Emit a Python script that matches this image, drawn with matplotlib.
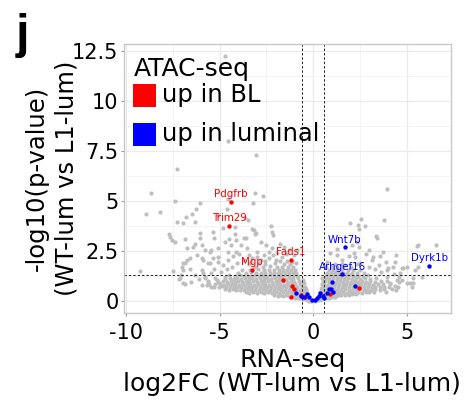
import matplotlib
matplotlib.use("Agg")
import matplotlib.pyplot as plt
from matplotlib.patches import Rectangle
from matplotlib.ticker import MultipleLocator

plt.rcParams['font.family'] = ['DejaVu Sans']
plt.rcParams['axes.unicode_minus'] = False

# background genes (grey): dense V-shaped cloud + outliers
gray_core = [
    (-0.35, 0.05), (-0.22, 0.02), (-0.1, 0.0), (0.12, 0.01), (0.25, 0.04), (0.38, 0.07),
    (-0.95, 0.16), (-0.82, 0.13), (-0.68, 0.17), (-0.55, 0.12), (-0.45, 0.15),
    (0.42, 0.14), (0.55, 0.17), (0.7, 0.13), (0.85, 0.16), (1.0, 0.18), (1.15, 0.2),
    (-2.1, 0.3), (-1.9, 0.26), (-1.75, 0.3), (-1.6, 0.27), (-1.45, 0.31), (-1.3, 0.26),
    (-1.15, 0.29), (-1.0, 0.3), (-0.85, 0.27), (-0.7, 0.3), (-0.55, 0.26), (-0.42, 0.28),
    (0.45, 0.27), (0.6, 0.3), (0.75, 0.26), (0.9, 0.29), (1.05, 0.31), (1.2, 0.27),
    (1.35, 0.3), (1.5, 0.28), (1.7, 0.31), (1.9, 0.3), (2.1, 0.33), (2.3, 0.35),
    (-3.6, 0.43), (-3.4, 0.4), (-3.2, 0.44), (-3.0, 0.41), (-2.8, 0.45), (-2.6, 0.4),
    (-2.4, 0.43), (-2.2, 0.41), (-2.0, 0.44), (-1.8, 0.4), (-1.6, 0.43), (-1.4, 0.41),
    (-1.2, 0.44), (-1.0, 0.4), (-0.8, 0.42), (-0.6, 0.41), (-0.47, 0.44),
    (0.47, 0.42), (0.62, 0.4), (0.8, 0.44), (1.0, 0.41), (1.2, 0.43), (1.4, 0.4),
    (1.6, 0.44), (1.8, 0.41), (2.0, 0.43), (2.2, 0.4), (2.4, 0.44), (2.6, 0.42),
    (2.8, 0.45), (3.0, 0.43), (3.25, 0.47),
    (-4.7, 0.58), (-4.5, 0.55), (-4.3, 0.59), (-4.1, 0.54), (-3.9, 0.57), (-3.7, 0.55),
    (-3.5, 0.58), (-3.3, 0.54), (-3.1, 0.57), (-2.9, 0.55), (-2.7, 0.58), (-2.5, 0.54),
    (-2.3, 0.57), (-2.1, 0.55), (-1.9, 0.58), (-1.7, 0.54), (-1.5, 0.57), (-1.3, 0.55),
    (-1.1, 0.58), (-0.9, 0.54), (-0.7, 0.57), (-0.52, 0.55),
    (0.52, 0.56), (0.7, 0.54), (0.9, 0.58), (1.1, 0.55), (1.3, 0.57), (1.5, 0.54),
    (1.7, 0.58), (1.9, 0.55), (2.1, 0.57), (2.3, 0.54), (2.5, 0.58), (2.7, 0.55),
    (2.9, 0.57), (3.1, 0.54), (3.3, 0.58), (3.55, 0.56), (3.8, 0.6),
    (-5.3, 0.72), (-5.05, 0.69), (-4.85, 0.73), (-4.65, 0.68), (-4.45, 0.71), (-4.25, 0.69),
    (-4.05, 0.72), (-3.85, 0.68), (-3.65, 0.71), (-3.45, 0.69), (-3.25, 0.72), (-3.05, 0.68),
    (-2.85, 0.71), (-2.65, 0.69), (-2.45, 0.72), (-2.25, 0.68), (-2.05, 0.71), (-1.85, 0.69),
    (-1.65, 0.72), (-1.45, 0.68), (-1.25, 0.71), (-1.05, 0.69), (-0.85, 0.72), (-0.58, 0.7),
    (0.55, 0.71), (0.72, 0.68), (0.92, 0.72), (1.12, 0.69), (1.32, 0.71), (1.52, 0.68),
    (1.72, 0.72), (1.92, 0.69), (2.12, 0.71), (2.32, 0.68), (2.52, 0.72), (2.72, 0.69),
    (2.92, 0.71), (3.12, 0.68), (3.32, 0.72), (3.55, 0.69), (3.8, 0.72), (4.05, 0.7), (4.35, 0.73),
    (-5.55, 0.86), (-5.25, 0.83), (-4.95, 0.87), (-4.75, 0.82), (-4.55, 0.85), (-4.35, 0.83),
    (-4.15, 0.86), (-3.95, 0.82), (-3.75, 0.85), (-3.55, 0.83), (-3.35, 0.86), (-3.15, 0.82),
    (-2.95, 0.85), (-2.75, 0.83), (-2.55, 0.86), (-2.35, 0.82), (-2.15, 0.85), (-1.95, 0.83),
    (-1.75, 0.86), (-1.55, 0.82), (-1.35, 0.85), (-1.15, 0.83), (-0.95, 0.86), (-0.72, 0.84),
    (0.58, 0.85), (0.78, 0.82), (0.98, 0.86), (1.18, 0.83), (1.38, 0.85), (1.58, 0.82),
    (1.78, 0.86), (1.98, 0.83), (2.18, 0.85), (2.38, 0.82), (2.58, 0.86), (2.78, 0.83),
    (2.98, 0.85), (3.2, 0.82), (3.45, 0.86), (3.75, 0.84), (4.1, 0.87),
    (-5.6, 1.0), (-5.1, 0.97), (-4.8, 1.01), (-4.6, 0.96), (-4.4, 0.99), (-4.2, 0.97),
    (-4.0, 1.0), (-3.8, 0.96), (-3.6, 0.99), (-3.4, 0.97), (-3.2, 1.0), (-3.0, 0.96),
    (-2.8, 0.99), (-2.6, 0.97), (-2.4, 1.0), (-2.2, 0.96), (-2.0, 0.99), (-1.8, 0.97),
    (-1.6, 1.0), (-1.4, 0.96), (-1.2, 0.99), (-1.0, 0.97), (-0.78, 1.0),
    (0.62, 0.99), (0.82, 0.96), (1.02, 1.0), (1.22, 0.97), (1.42, 0.99), (1.62, 0.96),
    (1.82, 1.0), (2.02, 0.97), (2.22, 0.99), (2.42, 0.96), (2.62, 1.0), (2.82, 0.97),
    (3.05, 0.99), (3.3, 0.96), (3.6, 1.0), (3.95, 0.98),
    (-5.25, 1.14), (-4.7, 1.11), (-4.45, 1.15), (-4.25, 1.1), (-4.05, 1.13), (-3.85, 1.11),
    (-3.65, 1.14), (-3.45, 1.1), (-3.25, 1.13), (-3.05, 1.11), (-2.85, 1.14), (-2.65, 1.1),
    (-2.45, 1.13), (-2.25, 1.11), (-2.05, 1.14), (-1.85, 1.1), (-1.65, 1.13), (-1.45, 1.11),
    (-1.25, 1.14), (-1.05, 1.1), (-0.82, 1.13),
    (0.66, 1.13), (0.86, 1.1), (1.06, 1.14), (1.26, 1.11), (1.46, 1.13), (1.66, 1.1),
    (1.86, 1.14), (2.06, 1.11), (2.28, 1.13), (2.52, 1.1), (2.78, 1.14), (3.05, 1.12), (3.35, 1.15),
    (-4.5, 1.28), (-4.15, 1.25), (-3.9, 1.29), (-3.7, 1.24), (-3.5, 1.27), (-3.3, 1.25),
    (-3.1, 1.28), (-2.9, 1.24), (-2.7, 1.27), (-2.5, 1.25), (-2.3, 1.28), (-2.1, 1.24),
    (-1.9, 1.27), (-1.7, 1.25), (-1.5, 1.28), (-1.3, 1.24), (-1.1, 1.27), (-0.88, 1.26),
    (0.7, 1.27), (0.9, 1.24), (1.1, 1.28), (1.3, 1.25), (1.5, 1.27), (1.7, 1.24),
    (1.9, 1.28), (2.12, 1.25), (2.38, 1.27), (2.65, 1.24), (2.95, 1.28),
    (-4.0, 1.42), (-3.6, 1.39), (-3.3, 1.43), (-3.05, 1.38), (-2.8, 1.41), (-2.55, 1.39),
    (-2.3, 1.42), (-2.1, 1.38), (-1.9, 1.41), (-1.7, 1.39), (-1.5, 1.42), (-1.3, 1.38),
    (-1.1, 1.41), (-0.92, 1.4),
    (0.76, 1.41), (0.96, 1.38), (1.16, 1.42), (1.38, 1.39), (1.6, 1.41), (1.82, 1.38),
    (2.05, 1.42), (2.35, 1.39), (2.7, 1.41),
    (-3.8, 1.57), (-3.35, 1.54), (-2.95, 1.58), (-2.65, 1.53), (-2.35, 1.56), (-2.1, 1.54),
    (-1.85, 1.57), (-1.62, 1.53), (-1.4, 1.56), (-1.18, 1.54), (-0.98, 1.57),
    (0.85, 1.56), (1.08, 1.53), (1.3, 1.57), (1.55, 1.54), (1.85, 1.56), (2.15, 1.53), (2.5, 1.57),
    (-3.1, 1.72), (-2.7, 1.69), (-2.3, 1.73), (-1.95, 1.68), (-1.65, 1.71), (-1.35, 1.69), (-1.08, 1.72),
    (0.98, 1.71), (1.28, 1.68), (1.62, 1.72), (2.0, 1.69),
    (-3.45, 1.87), (-2.55, 1.84), (-2.05, 1.88), (-1.55, 1.83), (-1.22, 1.86),
    (1.18, 1.86), (1.55, 1.83), (2.35, 1.87),
    # arms of the V between the fold-change cut-offs
    (-0.45, 0.3), (-0.4, 0.5), (-0.45, 0.7), (-0.5, 0.9), (-0.52, 1.05), (-0.3, 0.22),
    (-0.35, 0.4), (-0.38, 0.6), (0.3, 0.25), (0.38, 0.45), (0.42, 0.65), (0.48, 0.85),
    (0.52, 1.0), (0.35, 0.35), (0.45, 1.15),
]

gray_sparse = [
    (-4.72, 12.25), (-4.57, 8.0), (-3.07, 7.3), (-7.25, 6.6), (-8.65, 5.42), (-3.09, 5.38),
    (-2.66, 5.25), (-7.38, 5.0), (-6.06, 4.88), (-3.21, 4.88), (-4.57, 5.08), (-8.9, 4.35),
    (-8.16, 4.43), (-6.26, 4.58), (-6.49, 4.37), (-6.79, 4.2), (-7.25, 3.97), (-6.95, 3.92),
    (-6.31, 3.97), (-4.6, 4.62), (-5.07, 4.3), (-3.62, 4.15), (-3.48, 4.05), (-4.82, 3.67),
    (-4.19, 3.72), (-3.27, 3.6), (-3.1, 3.35), (-2.27, 3.73), (-2.2, 3.45), (-6.03, 3.42),
    (-5.36, 3.45), (-7.68, 3.35), (-7.63, 3.18), (-6.83, 3.12), (-6.03, 3.15), (-5.29, 3.15),
    (-4.49, 3.12), (-4.19, 3.35), (-3.56, 3.17), (-2.13, 3.3), (-3.16, 3.55), (-3.07, 3.4),
    (-9.27, 1.5), (-7.47, 1.52), (-7.15, 1.08), (-6.97, 1.55), (-7.06, 1.3), (-6.85, 0.83),
    (-6.76, 2.05), (-6.58, 2.13), (-6.85, 1.88), (-6.22, 2.3), (-5.96, 2.13), (-7.55, 3.05),
    (-6.4, 2.72), (-5.96, 2.8), (-5.43, 2.55), (-4.72, 2.97), (-5.07, 2.22), (-5.52, 1.88),
    (-5.96, 1.55), (-5.78, 1.13), (-5.69, 0.8), (-5.43, 0.72), (-7.38, 2.97), (-6.76, 2.63),
    (-6.31, 2.83), (-5.78, 2.55), (-5.52, 2.47), (-5.07, 2.63), (-4.54, 2.47), (-6.94, 1.88),
    (-7.02, 1.72), (-5.87, 2.05), (-5.6, 1.88), (-5.34, 2.13), (-5.07, 1.97), (-4.81, 1.8),
    (-4.54, 2.05), (-4.36, 1.72), (-7.11, 1.13), (-6.94, 0.88), (-5.78, 1.22), (-5.43, 1.38),
    (-5.16, 1.05), (-4.72, 1.22), (-5.6, 0.97), (-5.96, 0.8),
    (-2.8, 2.97), (-2.54, 2.8), (-2.18, 2.63), (-2.36, 2.47), (-1.78, 2.85), (-1.56, 2.72),
    (-1.3, 2.55), (-1.91, 2.38), (-2.63, 2.3), (-2.98, 2.47), (-3.51, 2.63), (-3.87, 2.8),
    (-4.13, 2.47), (-4.4, 2.8), (-4.13, 3.05), (-3.69, 3.13), (-3.24, 2.13), (-2.8, 2.05),
    (-2.36, 2.13), (-2.0, 2.05), (-1.65, 2.18), (-1.38, 2.02), (-1.03, 2.3), (-0.85, 2.55),
    (-0.94, 1.88), (-3.69, 2.05), (-4.04, 1.88),
    (-4.3, 2.25), (-3.95, 2.35), (-3.4, 2.3), (-3.0, 2.2), (-2.55, 2.0), (-2.15, 2.3),
    (-1.75, 2.0), (-1.45, 2.35), (-1.15, 1.95), (-3.3, 1.95), (-2.9, 1.9), (-4.6, 1.6),
    (-4.9, 1.45), (-5.3, 1.6), (-6.3, 1.3), (-6.5, 0.95), (-6.1, 1.1), (-5.9, 1.4), (-6.6, 1.6),
    (3.94, 5.58), (2.57, 4.1), (2.37, 3.82), (2.45, 3.62), (2.77, 3.75), (3.78, 4.05),
    (3.37, 3.25), (3.4, 3.13), (1.98, 3.88), (5.62, 2.78), (6.57, 2.78), (4.43, 2.32),
    (4.38, 1.97), (5.0, 1.68), (4.73, 1.63), (5.62, 1.68), (5.44, 1.55), (3.72, 2.47),
    (3.58, 2.25), (3.88, 1.97), (4.02, 1.63), (2.96, 2.55), (2.84, 2.35), (3.14, 2.05),
    (2.34, 2.97), (2.07, 2.8), (2.43, 2.72), (2.25, 2.22), (1.9, 2.25), (1.54, 2.05),
    (5.3, 0.72), (5.18, 0.88), (4.73, 1.05), (4.56, 1.22), (5.8, 1.22), (5.53, 2.75),
    (5.32, 1.13), (4.79, 1.67), (3.22, 2.22), (2.16, 2.38), (1.28, 2.3), (1.72, 1.8),
    (2.52, 1.88), (2.96, 1.72), (3.49, 1.8), (3.94, 1.55), (4.29, 1.72), (4.64, 1.38),
    (4.47, 1.05), (5.0, 0.88), (5.35, 0.88), (4.11, 0.88), (4.55, 0.72), (3.94, 1.2),
    (4.3, 1.35), (3.6, 1.45), (3.3, 1.6), (4.2, 0.6), (4.6, 0.95), (3.9, 0.45), (4.45, 0.55),
    (0.75, 1.95), (0.9, 2.4), (1.25, 2.6), (0.7, 1.7),
]

# ATAC-seq "up in BL" (red) and "up in luminal" (blue)
red_x = [-4.40, -4.47, -3.28, -1.19, -1.62, -1.14, -1.03, -1.17, -0.66, -0.41, 0.92, 2.46]
red_y = [4.97, 3.75, 1.55, 2.05, 1.05, 0.75, 0.6, 0.22, 0.3, 0.22, 0.33, 0.65]
blue_x = [1.68, 1.54, 6.2, 1.03, 2.21, -0.89, -0.66, -0.32, -0.21, -0.05, 0.09, 0.21,
          0.3, 0.39, 0.53, 0.74, 0.83, 0.97, 1.06, 0.6, -0.48]
blue_y = [2.68, 1.33, 1.77, 0.97, 0.75, 0.42, 0.25, 0.35, 0.22, 0.05, 0.05, 0.13,
          0.25, 0.38, 0.25, 0.42, 0.58, 0.6, 0.47, 0.13, 0.22]

red_genes = ['Pdgfrb', 'Trim29', 'Mgp', 'Fads1']
blue_genes = ['Wnt7b', 'Arhgef16', 'Dyrk1b']
legend_labels = ['up in BL', 'up in luminal']
legend_colors = ['#FF0000', '#0000FF']

fc_cut = 0.585
p_cut = 1.301

fig = plt.figure(figsize=(4.71, 4.0), dpi=100)
ax = fig.add_axes([0.2633, 0.2175, 0.6942, 0.6725])

gx = [p[0] for p in gray_core + gray_sparse]
gy = [p[1] for p in gray_core + gray_sparse]
ax.scatter(gx, gy, s=9, c='#BEBEBE', linewidths=0, zorder=2)
ax.scatter(red_x, red_y, s=10, c='#FF0000', linewidths=0, zorder=3)
ax.scatter(blue_x, blue_y, s=10, c='#0000FF', linewidths=0, zorder=3)

# the labelled genes are the first entries of each colour list
for i, lbl in enumerate(red_genes):
    ax.annotate(lbl, (red_x[i], red_y[i]), xytext=(0, 5.5), textcoords='offset points',
                ha='center', va='center', fontsize=7.4, color='#FF0000', zorder=4)
for i, lbl in enumerate(blue_genes):
    ax.annotate(lbl, (blue_x[i], blue_y[i]), xytext=(0, 5.5), textcoords='offset points',
                ha='center', va='center', fontsize=7.4, color='#0000FF', zorder=4)

dash = (0, (2.5, 2))
ax.axvline(-fc_cut, color='#222222', lw=0.7, ls=dash, zorder=2.5)
ax.axvline(fc_cut, color='#222222', lw=0.7, ls=dash, zorder=2.5)
ax.axhline(p_cut, color='#222222', lw=0.7, ls=dash, zorder=2.5)

ax.set_xlim(-10.1, 7.36)
ax.set_ylim(-0.6, 12.85)
ax.xaxis.set_minor_locator(MultipleLocator(2.5))
ax.yaxis.set_minor_locator(MultipleLocator(1.25))
ax.set_xticks([-10, -5, 0, 5], ['-10', '-5', '0', '5'])
ax.set_yticks([0, 2.5, 5, 7.5, 10, 12.5], ['0', '2.5', '5', '7.5', '10', '12.5'])
ax.grid(which='major', color='#EBEBEB', lw=0.9, zorder=0)
ax.grid(which='minor', color='#F2F2F2', lw=0.6, zorder=0)
ax.set_axisbelow(True)
for s in ax.spines.values():
    s.set_color('#C8C8C8')
    s.set_linewidth(1.0)
ax.tick_params(which='major', length=2.5, width=0.8, color='#999999', labelsize=15, pad=1.5)
ax.tick_params(axis='x', pad=5)
ax.tick_params(which='minor', length=0)

ax.set_xlabel('RNA-seq\nlog2FC (WT-lum vs L1-lum)', fontsize=18, linespacing=1.0)
ax.xaxis.set_label_coords(0.515, -0.13)
ax.xaxis.label.set_va('top')
ax.set_ylabel('-log10(p-value)\n(WT-lum vs L1-lum)', fontsize=17.5, linespacing=1.3)
ax.yaxis.set_label_coords(-0.14, 0.5)

# legend drawn by hand so the spacing follows the picture
ax.text(0.031, 0.952, 'ATAC-seq', transform=ax.transAxes, fontsize=18, va='top', ha='left')
for k, (lab, col) in enumerate(zip(legend_labels, legend_colors)):
    y0 = 0.767 - k * 0.145
    ax.add_patch(Rectangle((0.028, y0), 0.07, 0.0855, transform=ax.transAxes,
                           facecolor=col, edgecolor='none', zorder=5))
    ax.text(0.117, y0 + 0.043, lab, transform=ax.transAxes, fontsize=17.5,
            va='center', ha='left', zorder=5)

fig.text(0.034, 0.968, 'j', fontsize=35, fontweight='bold', va='top', ha='left',
         family=['Liberation Sans', 'DejaVu Sans'])

fig.savefig('out.png', dpi=100)
